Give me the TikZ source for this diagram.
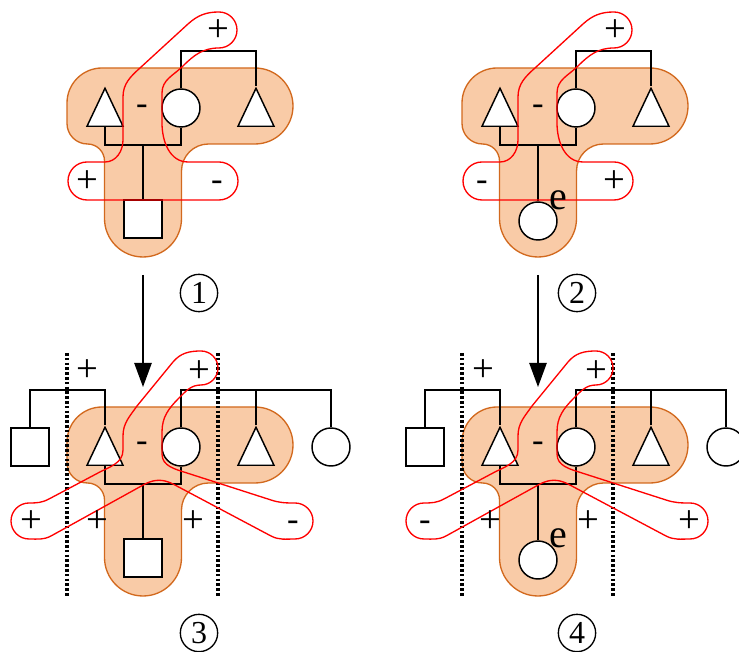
\documentclass[tikz,border=0pt]{standalone}
\usepackage{fontspec}
\setmainfont{Liberation Serif}
\usepackage{tikz}
\usetikzlibrary{shapes.geometric, arrows.meta}
\definecolor{blobfill}{HTML}{F9CBA7}
\definecolor{blobline}{HTML}{D2691E}

\tikzset{
  person/.style={draw, fill=white, line width=1.1pt, inner sep=0pt},
  male/.style={person, rectangle, minimum size=28.5pt},
  female/.style={person, circle, minimum size=28.5pt},
  unknown/.style={person, isosceles triangle, isosceles triangle stretches, shape border rotate=90, minimum width=27pt, minimum height=28.5pt},
  kin/.style={line width=1.1pt},
  blob/.style={draw=blobline, fill=blobfill, line width=1pt},
  loopline/.style={draw=red, line width=1pt},
  cut/.style={line width=2.4pt, dash pattern=on 2pt off 1.6pt},
  flow/.style={line width=1.1pt, -{Triangle[length=18pt, width=13pt]}},
  plus/.style={anchor=base, yshift=-7.2pt, inner sep=0pt, font=\fontsize{29}{29}\selectfont},
  minus/.style={anchor=base, yshift=-5.8pt, inner sep=0pt, font=\fontsize{26}{26}\selectfont},
  tag/.style={anchor=base, yshift=-6.8pt, inner sep=0pt, font=\fontsize{30}{30}\selectfont},
  stage/.style={circle, draw, line width=1pt, minimum size=28pt, inner sep=0pt, font=\fontsize{24}{24}\selectfont}
}

% orange region round the core family
\newcommand{\drawblob}{%
  \draw[blob] (-38.5,-73.5) -- (-38.5,-16) arc[start angle=0, end angle=90, radius=17]
    arc[start angle=-90, end angle=-180, radius=20.5] -- (-76,42)
    arc[start angle=180, end angle=90, radius=35] -- (112,77)
    arc[start angle=90, end angle=-90, radius=38] -- (65.5,1)
    arc[start angle=90, end angle=180, radius=27] -- (38.5,-73.5)
    arc[start angle=0, end angle=-180, radius=38.5] -- cycle;}

% red loop, straight arms
\newcommand{\loopstraight}{%
  \draw[loopline] (19,40) -- (19,22) to[out=-90, in=180] (45,-17) -- (76,-17)
    arc[start angle=90, end angle=-90, radius=19] -- (-56,-55)
    arc[start angle=-90, end angle=-270, radius=19] -- (-38,-17)
    to[out=0, in=-90] (-20,5) -- (-20,48) to[out=90, in=222] (-3,77) -- (45,121)
    to[out=42, in=180] (76,133) arc[start angle=90, end angle=-90, radius=18]
    to[out=180, in=45] (40,79) to[out=225, in=90] (19,52) -- cycle;}

% red loop, slanted arms
\newcommand{\loopslant}{%
  \draw[loopline] (19,40) -- (19,30) to[out=-90, in=162] (44,11) -- (128,-16)
    to[out=-18, in=180] (152,-19) arc[start angle=90, end angle=-90, radius=18]
    to[out=180, in=-27] (128,-52) -- (30,0) to[out=153, in=27] (2,0) -- (-92,-52)
    to[out=208, in=0] (-114,-55) arc[start angle=-90, end angle=-270, radius=18]
    to[out=0, in=208] (-94,-15) -- (-45,11) to[out=28, in=-90] (-20,34) -- (-20,48)
    to[out=90, in=235] (-6,78) -- (30,122) to[out=50, in=180] (58,133)
    arc[start angle=90, end angle=-90, radius=17]
    to[out=180, in=45] (36,86) to[out=225, in=90] (19,52) -- cycle;}

\begin{document}
\begin{tikzpicture}[x=0.75pt, y=0.75pt]
\useasboundingbox (0,0) rectangle (739,652);

% panel 1
\begin{scope}[shift={(143,507)}]
  \drawblob
  \node[unknown, anchor=lower side] (Atl) at (-38,18) {};
  \node[female] (Acir) at (38,37) {};
  \node[unknown, anchor=lower side] (Atr) at (113,18) {};
  \node[male] (Asq) at (0,-74) {};
  \coordinate (Abar) at (113,94);
  \coordinate (Asib) at (0,0);
  \draw[kin] (Acir.north) |- (Abar) -- (Atr.apex);
  \draw[kin] (Atl.lower side) |- (Asib) -| (Acir.south);
  \draw[kin] (Asib) -- (Asq);
  \loopstraight
  \node[plus] (Ap1) at (75,113) {+};
  \node[minus] (Am1) at (-1,38) {-};
  \node[plus] (Ap2) at (-56,-38) {+};
  \node[minus] (Am2) at (74,-38) {-};
  \node[stage] (Anum) at (56,-148) {1};
\end{scope}

% panel 2
\begin{scope}[shift={(538,507)}]
  \drawblob
  \node[unknown, anchor=lower side] (Btl) at (-38,18) {};
  \node[female] (Bcir) at (38,37) {};
  \node[unknown, anchor=lower side] (Btr) at (113,18) {};
  \node[female] (Bch) at (0,-76) {};
  \coordinate (Bbar) at (113,94);
  \coordinate (Bsib) at (0,0);
  \draw[kin] (Bcir.north) |- (Bbar) -- (Btr.apex);
  \draw[kin] (Btl.lower side) |- (Bsib) -| (Bcir.south);
  \draw[kin] (Bsib) -- (Bch);
  \loopstraight
  \node[plus] (Bp1) at (77,113) {+};
  \node[minus] (Bm1) at (0,38) {-};
  \node[minus] (Bm2) at (-56,-38) {-};
  \node[plus] (Bp2) at (76,-38) {+};
  \node[tag] (Be) at (20,-55) {e};
  \node[stage] (Bnum) at (39,-148) {2};
\end{scope}

% panel 3
\begin{scope}[shift={(143,168)}]
  \drawblob
  \node[unknown, anchor=lower side] (Ctl) at (-38,18) {};
  \node[female] (Ccir) at (38,37) {};
  \node[unknown, anchor=lower side] (Ctr) at (113,18) {};
  \node[male] (Csq) at (0,-74) {};
  \node[male] (Cfa) at (-113,37) {};
  \node[female] (Cmo) at (188,37) {};
  \coordinate (Cleft) at (-75,94);
  \coordinate (Cbar) at (113,94);
  \coordinate (Csib) at (0,0);
  \draw[kin] (Cfa.north) |- (Cleft) -| (Ctl.apex);
  \draw[kin] (Ccir.north) |- (Cbar) -| (Cmo.north);
  \draw[kin] (Ctr.apex) -- (Cbar);
  \draw[kin] (Ctl.lower side) |- (Csib) -| (Ccir.south);
  \draw[kin] (Csib) -- (Csq);
  \draw[cut] (-76,131) -- (-76,-113);
  \draw[cut] (75,131) -- (75,-113);
  \loopslant
  \node[plus] (Cp1) at (-56,112) {+};
  \node[plus] (Cp2) at (56,111) {+};
  \node[minus] (Cm1) at (-1,40) {-};
  \node[plus] (Cp3) at (-112,-39) {+};
  \node[plus] (Cp4) at (-46,-39) {+};
  \node[plus] (Cp5) at (50,-39) {+};
  \node[minus] (Cm2) at (150,-39) {-};
  \node[stage] (Cnum) at (56,-149) {3};
\end{scope}

% panel 4
\begin{scope}[shift={(538,168)}]
  \drawblob
  \node[unknown, anchor=lower side] (Dtl) at (-38,18) {};
  \node[female] (Dcir) at (38,37) {};
  \node[unknown, anchor=lower side] (Dtr) at (113,18) {};
  \node[female] (Dch) at (0,-76) {};
  \node[male] (Dfa) at (-113,37) {};
  \node[female] (Dmo) at (188,37) {};
  \coordinate (Dleft) at (-75,94);
  \coordinate (Dbar) at (113,94);
  \coordinate (Dsib) at (0,0);
  \draw[kin] (Dfa.north) |- (Dleft) -| (Dtl.apex);
  \draw[kin] (Dcir.north) |- (Dbar) -| (Dmo.north);
  \draw[kin] (Dtr.apex) -- (Dbar);
  \draw[kin] (Dtl.lower side) |- (Dsib) -| (Dcir.south);
  \draw[kin] (Dsib) -- (Dch);
  \draw[cut] (-76,131) -- (-76,-113);
  \draw[cut] (75,131) -- (75,-113);
  \loopslant
  \node[plus] (Dp1) at (-55,112) {+};
  \node[plus] (Dp2) at (58,111) {+};
  \node[minus] (Dm1) at (0,40) {-};
  \node[minus] (Dm2) at (-113,-39) {-};
  \node[plus] (Dp3) at (-48,-39) {+};
  \node[plus] (Dp4) at (50,-39) {+};
  \node[plus] (Dp5) at (151,-39) {+};
  \node[tag] (De) at (20,-54) {e};
  \node[stage] (Dnum) at (39,-149) {4};
\end{scope}

% arrows between stages
\coordinate (ar1) at (143,377);
\coordinate (ar3) at (143,265);
\coordinate (ar2) at (538,377);
\coordinate (ar4) at (538,265);
\draw[flow] (ar1) -- (ar3);
\draw[flow] (ar2) -- (ar4);
\end{tikzpicture}
\end{document}
